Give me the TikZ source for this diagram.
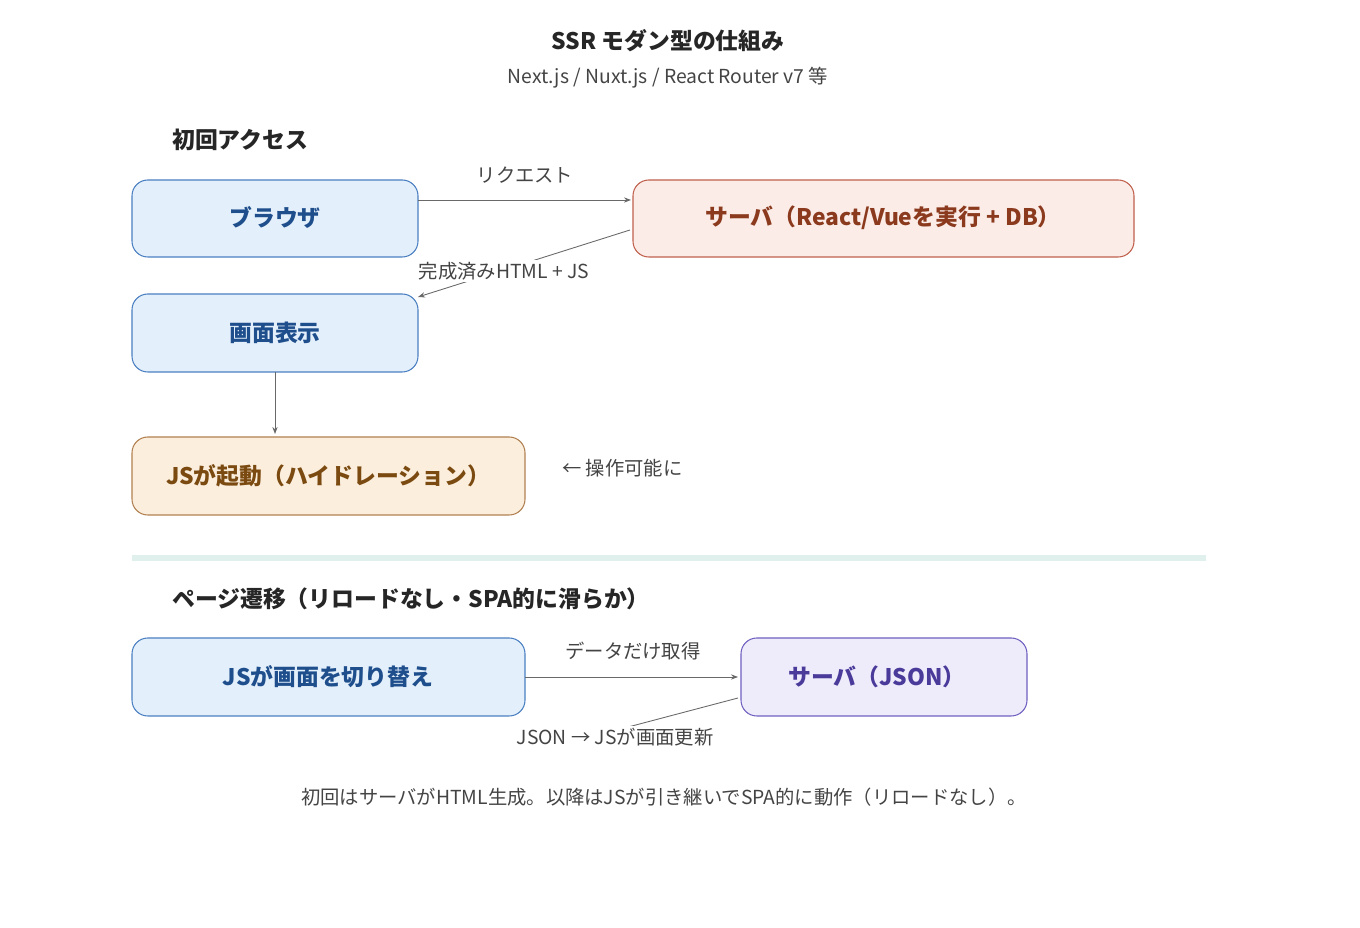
\documentclass[tikz,border=0pt]{standalone}
\usepackage{fontspec}
\setmainfont{Noto Sans CJK JP}
\usetikzlibrary{arrows.meta}
\definecolor{blueFill}{HTML}{E3F0FB}
\definecolor{blueLine}{HTML}{4A7FC1}
\definecolor{blueText}{HTML}{1F4E8C}
\definecolor{redFill}{HTML}{FBECE7}
\definecolor{redLine}{HTML}{C0604D}
\definecolor{redText}{HTML}{8B3A1E}
\definecolor{tanFill}{HTML}{FBEEDD}
\definecolor{tanLine}{HTML}{B08050}
\definecolor{tanText}{HTML}{7A4A10}
\definecolor{purFill}{HTML}{EEEBFB}
\definecolor{purLine}{HTML}{7060C0}
\definecolor{purText}{HTML}{4A3A9A}
\definecolor{txt}{HTML}{444444}
\definecolor{divider}{HTML}{E0F0EC}
\tikzset{
  box/.style={rounded corners=9pt, line width=0.6pt},
  head/.style={font=\fontsize{13}{15}\selectfont\bfseries},
  conn/.style={draw=txt!80, line width=0.5pt, -{Stealth[length=4pt,width=3pt]}},
  lbl/.style={font=\fontsize{11}{13}\selectfont, text=txt, fill=white, inner sep=1pt},
}
\begin{document}
\begin{tikzpicture}[x=0.02cm, y=-0.02cm]
    \useasboundingbox (0,0) rectangle (1360,928);

    % Titles
    \node[head, text=black!85] (title) at (668,41) {SSR モダン型の仕組み};
    \node[font=\fontsize{11}{13}\selectfont, text=txt] (subtitle) at (668,78) {Next.js / Nuxt.js / React Router v7 等};

    % First access
    \node[anchor=west, head, text=black!85] (sec1) at (166,140) {初回アクセス};
    \filldraw[box, fill=blueFill, draw=blueLine] (132,180) rectangle (418,257);
    \node[head, text=blueText] (browser) at (275,218) {ブラウザ};
    \filldraw[box, fill=redFill, draw=redLine] (633,180) rectangle (1134,257);
    \node[head, text=redText] (server) at (883,218) {サーバ（React/Vueを実行 + DB）};
    \filldraw[box, fill=blueFill, draw=blueLine] (132,294) rectangle (418,372);
    \node[head, text=blueText] (screen) at (275,333) {画面表示};
    \filldraw[box, fill=tanFill, draw=tanLine] (132,437) rectangle (525,515);
    \node[head, text=tanText] (hydrate) at (328,476) {JSが起動（ハイドレーション）};
    \node[anchor=west, font=\fontsize{11}{13}\selectfont, text=txt] (ready) at (556,468) {← 操作可能に};

    \coordinate (reqA) at (418,200);
    \coordinate (reqB) at (631,200);
    \coordinate (resA) at (630,230);
    \coordinate (resB) at (418,297);
    \coordinate (downA) at (275,372);
    \coordinate (downB) at (275,434);
    \draw[conn] (reqA) -- (reqB);
    \node[lbl] (reqL) at (525,175) {リクエスト};
    \draw[conn] (resA) -- (resB);
    \node[lbl] (resL) at (504,271) {完成済みHTML + JS};
    \draw[conn] (downA) -- (downB);

    % Divider
    \draw[divider, line width=3.5pt] (132,558) -- (1206,558);

    % Page transition
    \node[anchor=west, head, text=black!85] (sec2) at (166,599) {ページ遷移（リロードなし・SPA的に滑らか）};
    \filldraw[box, fill=blueFill, draw=blueLine] (132,638) rectangle (525,716);
    \node[head, text=blueText] (swap) at (328,677) {JSが画面を切り替え};
    \filldraw[box, fill=purFill, draw=purLine] (741,638) rectangle (1027,716);
    \node[head, text=purText] (json) at (877,677) {サーバ（JSON）};

    \coordinate (getA) at (525,677);
    \coordinate (getB) at (738,677);
    \coordinate (jsA) at (738,698);
    \coordinate (jsB) at (560,745);
    \draw[conn] (getA) -- (getB);
    \node[lbl] (getL) at (633,651) {データだけ取得};
    \draw[draw=txt!80, line width=0.5pt] (jsA) -- (jsB);
    \node[lbl] (jsL) at (615,737) {JSON → JSが画面更新};

    % Footer
    \node[font=\fontsize{11}{13}\selectfont, text=txt] (foot) at (664,797) {初回はサーバがHTML生成。以降はJSが引き継いでSPA的に動作（リロードなし）。};
\end{tikzpicture}
\end{document}
